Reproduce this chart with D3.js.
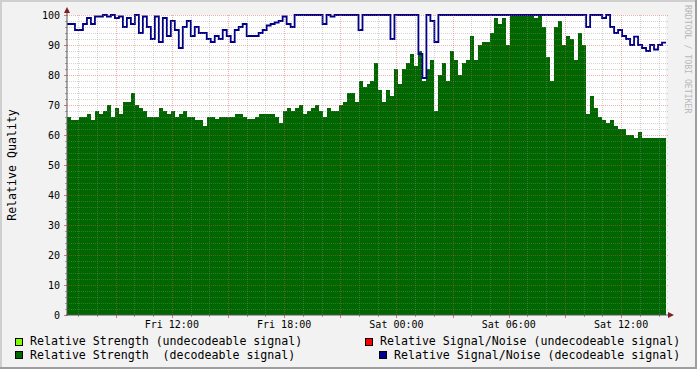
<!DOCTYPE html>
<html><head><meta charset="utf-8">
<script src="https://cdn.jsdelivr.net/npm/d3@7/dist/d3.min.js"></script>
<style>
html,body{margin:0;padding:0;background:#f2f2f2;}
svg{display:block;font-family:"DejaVu Sans Mono",monospace;}
</style>
</head><body>
<svg id="chart" width="697" height="369"></svg>
<script>
// ---- data ----
const startTime = new Date(Date.UTC(2024, 0, 5, 6, 24));   // Fri 06:24
const endTime   = new Date(Date.UTC(2024, 0, 6, 14, 24));  // Sat 14:24

// Relative Strength (decodeable signal), equally spaced samples
const strength = [
  66,65,65,66,66,67,65,68,67,68,
  70,66,69,67,71,71,74,70,69,68,
  66,66,66,69,68,67,68,66,67,68,
  66,66,65,65,63,66,66,65.5,66,66,
  66,66,67,67,66,65.5,65.5,66,67,67,
  67,67,66,64,68,69,68,69,70,67,
  68,69,70,68,66,69,68,68,70,71,
  74,74,71,78,76,77,78,84,75,71,
  75,73,82,77,82,84,87,83,88,78,
  82,85,68,80,84,78,88,85,80,84,
  85,93,85,90,91,91,94,99,97,99,
  90,100,100,100,100,100,100,99,100,96,
  86,78,96,98,90,93,92,85,94,90,
  67,73,69,66,65,64,65,63,62,62,
  60,60,59,61,59,59,59,59,59,59
];
// Relative Signal/Noise (decodeable signal)
const snr = [
  97,97,95,95,97,99,97,99.5,99.5,100,
  99.5,100,99,99.5,96,99,97,100,94,99.5,
  96,92,99.5,91,99,93,98,95,89,96,
  98,93,96,94,94,92,91,93,92,95,
  93,91,95,96,97,93,93,93,94,95,
  96.5,97,97.5,98,99.5,97,96,100,100,100,
  100,100,100,100,97,100,99.5,100,100,100,
  100,100,100,95,100,100,100,100,100,100,
  100,92,100,100,100,100,100,100,87,79,
  100,98,91,100,100,100,100,100,100,100,
  100,100,100,100,100,100,100,100,100,100,
  100,100,100,100,100,100,100,100,100,100,
  100,100,100,100,100,100,100,100,100,100,
  96,100,100,100,99,100,96,94,95,93,
  92,90,92.8,90,89,88,90,88.5,90,90.8
];
const yMajorTicks = [0,10,20,30,40,50,60,70,80,90,100];
const legendLabels = [
  "Relative Strength (undecodeable signal)",
  "Relative Signal/Noise (undecodeable signal)",
  "Relative Strength  (decodeable signal)",
  "Relative Signal/Noise (decodeable signal)"
];
const legendColors = ["#80ff00", "#ff0000", "#006600", "#000090"];
const yTitle = "Relative Quality";
const watermark = "RRDTOOL / TOBI OETIKER";

// ---- layout ----
const W = 697, H = 369;
const X0 = 67, X1 = 666, Y0 = 315, Y1 = 15;
const svg = d3.select("#chart");

const x = d3.scaleUtc().domain([startTime, endTime]).range([X0, X1]);
const y = d3.scaleLinear().domain([0, 100]).range([Y0, Y1]);

const n = strength.length;
const step = (endTime - startTime) / n;
const tAt = i => new Date(+startTime + i * step);
const ptsS = strength.map((v, i) => ({t: tAt(i), v}));
ptsS.push({t: endTime, v: strength[n - 1]});
const ptsN = snr.map((v, i) => ({t: tAt(i), v}));
ptsN.push({t: endTime, v: snr[n - 1]});

// background + shading
svg.append("rect").attr("width", W).attr("height", H).attr("fill", "#f2f2f2");
svg.append("rect").attr("x", 0).attr("y", 0).attr("width", W).attr("height", 2).attr("fill", "#cfcfcf");
svg.append("rect").attr("x", 0).attr("y", 0).attr("width", 2).attr("height", H).attr("fill", "#cfcfcf");
svg.append("rect").attr("x", 0).attr("y", H - 2).attr("width", W).attr("height", 2).attr("fill", "#9e9e9e");
svg.append("rect").attr("x", W - 2).attr("y", 0).attr("width", 2).attr("height", H).attr("fill", "#9e9e9e");

// canvas
svg.append("rect").attr("x", X0).attr("y", Y1).attr("width", X1 - X0).attr("height", Y0 - Y1).attr("fill", "#ffffff");

// area
svg.append("path").datum(ptsS)
  .attr("d", d3.area().x(d => x(d.t)).y0(y(0)).y1(d => y(d.v)).curve(d3.curveStepAfter))
  .attr("fill", "#006600").attr("shape-rendering", "crispEdges");

// line
svg.append("path").datum(ptsN)
  .attr("d", d3.line().x(d => x(d.t)).y(d => y(d.v)).curve(d3.curveStepAfter))
  .attr("fill", "none").attr("stroke", "#000088").attr("stroke-width", 1.8);

// grid
const grid = svg.append("g").attr("shape-rendering", "crispEdges");
const minorColor = "rgba(143,143,143,0.38)";
const majorColor = "rgba(222,79,79,0.45)";
d3.range(0, 101, 2).filter(v => v % 10 !== 0).forEach(v => {
  grid.append("line").attr("x1", X0).attr("x2", X1 + 2).attr("y1", y(v) + 0.5).attr("y2", y(v) + 0.5)
    .attr("stroke", minorColor).attr("stroke-dasharray", "1,1");
});
x.ticks(d3.utcHour.every(1)).filter(t => t.getUTCHours() % 3 !== 0).forEach(t => {
  grid.append("line").attr("x1", Math.round(x(t)) + 0.5).attr("x2", Math.round(x(t)) + 0.5).attr("y1", Y1).attr("y2", Y0)
    .attr("stroke", minorColor).attr("stroke-dasharray", "1,1");
});
yMajorTicks.filter(v => v > 0).forEach(v => {
  grid.append("line").attr("x1", X0).attr("x2", X1 + 2).attr("y1", y(v) + 0.5).attr("y2", y(v) + 0.5)
    .attr("stroke", majorColor).attr("stroke-dasharray", "1,1");
});
x.ticks(d3.utcHour.every(3)).forEach(t => {
  grid.append("line").attr("x1", Math.round(x(t)) + 0.5).attr("x2", Math.round(x(t)) + 0.5).attr("y1", Y1).attr("y2", Y0)
    .attr("stroke", majorColor).attr("stroke-dasharray", "1,1");
});

// axis ticks
d3.range(0, 101, 2).forEach(v => {
  const major = v % 10 === 0;
  grid.append("line").attr("x1", major ? X0 - 3 : X0 - 2).attr("x2", X0).attr("y1", y(v) + 0.5).attr("y2", y(v) + 0.5)
    .attr("stroke", major ? "rgba(222,79,79,0.8)" : "rgba(143,143,143,0.8)");
});
x.ticks(d3.utcHour.every(1)).forEach(t => {
  const major = t.getUTCHours() % 3 === 0;
  grid.append("line").attr("x1", Math.round(x(t)) + 0.5).attr("x2", Math.round(x(t)) + 0.5)
    .attr("y1", Y0).attr("y2", major ? Y0 + 3 : Y0 + 2)
    .attr("stroke", major ? "rgba(222,79,79,0.8)" : "rgba(143,143,143,0.8)");
});

// axes lines
svg.append("line").attr("x1", X0).attr("x2", X0).attr("y1", Y0 + 1).attr("y2", 11).attr("stroke", "#555").attr("stroke-width", 1);
svg.append("line").attr("x1", X0 - 1).attr("x2", 670).attr("y1", Y0).attr("y2", Y0).attr("stroke", "#555").attr("stroke-width", 1);
// arrows
svg.append("path").attr("d", "M64,13 L67,7 L70,13 Z").attr("fill", "#801f1f");
svg.append("path").attr("d", "M668,312 L674,315 L668,318 Z").attr("fill", "#801f1f");

// y labels
svg.append("g").selectAll("text").data(yMajorTicks).join("text")
  .attr("x", 60).attr("y", d => y(d) + 3.6).attr("text-anchor", "end")
  .attr("font-size", 10).attr("fill", "#000").text(d => d);

// x labels
const fmt = d3.utcFormat("%a %H:%M");
svg.append("g").selectAll("text").data(x.ticks(d3.utcHour.every(6))).join("text")
  .attr("x", d => x(d)).attr("y", 328).attr("text-anchor", "middle")
  .attr("font-size", 10).attr("fill", "#000").text(d => fmt(d));

// y title
svg.append("text").attr("transform", "translate(16,165) rotate(-90)").attr("text-anchor", "middle")
  .attr("font-size", 11.6).attr("fill", "#000").text(yTitle);

// watermark
svg.append("text").attr("transform", "translate(685,5) rotate(90)").attr("text-anchor", "start")
  .attr("font-size", 8.2).attr("fill", "#b8b8b8").text(watermark);

// legend
const legPos = [
  {sx: 15, sy: 338, tx: 30, ty: 345},
  {sx: 365, sy: 338, tx: 380, ty: 345},
  {sx: 15, sy: 351, tx: 30, ty: 359},
  {sx: 379, sy: 351, tx: 394, ty: 359}
];
legendLabels.forEach((lab, i) => {
  const p = legPos[i];
  svg.append("rect").attr("x", p.sx + 0.5).attr("y", p.sy + 0.5).attr("width", 7).attr("height", 7)
    .attr("fill", legendColors[i]).attr("stroke", "#000").attr("stroke-width", 1);
  svg.append("text").attr("x", p.tx).attr("y", p.ty).attr("font-size", 11.6).attr("fill", "#000")
    .attr("xml:space", "preserve").style("white-space", "pre").text(lab);
});
</script>
</body></html>
